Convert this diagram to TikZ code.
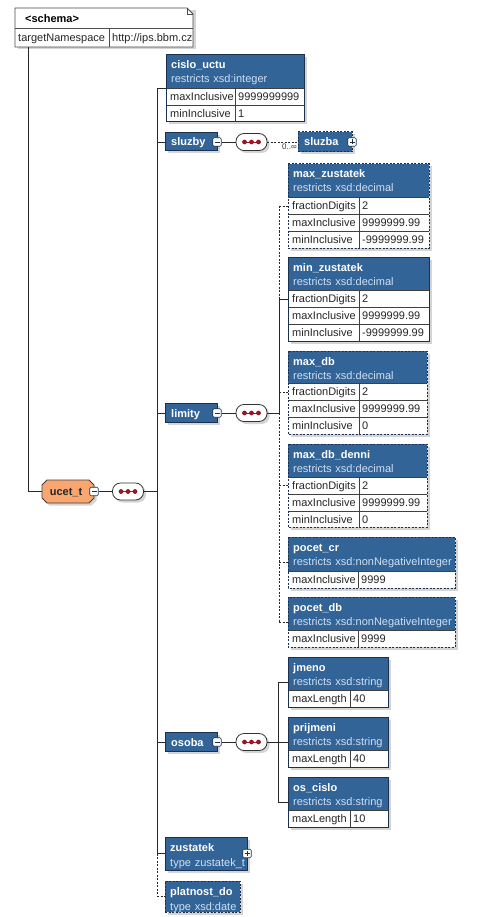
\documentclass[tikz,border=0pt]{standalone}
\usepackage{fontspec}
\setmainfont{Liberation Sans}
\usetikzlibrary{calc}
\definecolor{hdrc}{RGB}{50,100,152}
\definecolor{bordc}{RGB}{26,48,78}
\definecolor{subc}{RGB}{208,224,242}
\definecolor{linec}{RGB}{40,40,40}
\definecolor{shadc}{RGB}{212,212,212}
\definecolor{orangec}{RGB}{249,166,112}
\definecolor{dotc}{RGB}{165,20,35}
\newcommand{\gap}{\hspace{3.8pt}}
\tikzset{
  ttl/.style={anchor=base west, inner sep=0, font=\fontsize{11}{12}\selectfont\bfseries, text=white},
  subt/.style={anchor=base west, inner sep=0, font=\fontsize{11}{12}\selectfont, text=subc},
  rowt/.style={anchor=base west, inner sep=0, font=\fontsize{11}{12}\selectfont, text=black!85},
  conn/.style={draw=linec, line width=0.9},
  opt/.style={dash pattern=on 2pt off 1.5pt},
  mbox/.style={draw=bordc, fill=white, minimum size=8.5, inner sep=0, rounded corners=1.2, line width=0.6},
  seqbox/.style={draw=black!80, fill=white, rounded corners=8, minimum width=31, minimum height=17, inner sep=0, line width=0.8},
  bare/.style={inner sep=0, outer sep=0},
}
% element with header (two lines) and total height
\newcommand{\ebox}[8]{%
  \fill[shadc] ($(#2,#3)+(2.5,2.5)$) rectangle ++(#4,#5);
  \node[bare, fill=white, minimum width=#4, minimum height=#5, anchor=north west] (#1) at (#2,#3) {};
  \fill[hdrc] (#1.north west) rectangle ++(#4,#6);
  \draw[bordc, line width=0.8] ($(#1.north west)+(0,#6)$) -- ++(#4,0);
  \node[ttl] at ($(#1.north west)+(5,14)$) {#7};
  \node[subt] at ($(#1.north west)+(5,28)$) {#8};
}
\newcommand{\eborder}[2]{%
  \draw[bordc, line width=1, #2] (#1.north west) rectangle (#1.south east);
}
% two-line header-only element: id x y w h title sub style
\newcommand{\tbox}[8]{%
  \fill[shadc] ($(#2,#3)+(2.5,2.5)$) rectangle ++(#4,#5);
  \node[bare, fill=hdrc, draw=bordc, line width=1, #8, minimum width=#4, minimum height=#5, anchor=north west] (#1) at (#2,#3) {};
  \node[ttl] at ($(#1.north west)+(5,14)$) {#6};
  \node[subt] at ($(#1.north west)+(5,29)$) {#7};
}
% single line element: id x y w h title style
\newcommand{\selem}[7]{%
  \fill[shadc] ($(#2,#3)+(2.5,2.5)$) rectangle ++(#4,#5);
  \node[bare, fill=hdrc, draw=bordc, line width=1, #7, minimum width=#4, minimum height=#5, anchor=north west] (#1) at (#2,#3) {};
  \node[ttl] at ($(#1.west)+(6,4)$) {#6};
}
% facet row: x y w divx label value
\newcommand{\frow}[6]{%
  \draw[black!75, line width=0.7] (#1,#2) -- ++(#3,0);
  \draw[black!75, line width=0.7] (#4,#2) -- ++(0,17);
  \node[rowt] at (#1+4,#2+12.7) {#5};
  \node[rowt] at (#4+3,#2+12.7) {#6};
}
% sequence compositor: id x y
\newcommand{\seqc}[3]{%
  \fill[shadc, rounded corners=8] (#2-15.5+2.5,#3-8.5+2.5) rectangle ++(31,17);
  \node[seqbox] (#1) at (#2,#3) {};
  \draw[dotc, line width=0.9] ($(#1.center)+(-7,0)$) -- ++(14,0);
  \foreach \dx in {-7,0,7} \filldraw[fill=dotc, draw=dotc!70!black, line width=0.4] ($(#1.center)+(\dx,0)$) circle (2.1);
}
\newcommand{\minusbox}[2]{%
  \node[mbox] (#1) at (#2) {};
  \draw[bordc, line width=0.7] ($(#1.center)+(-2.5,0)$) -- ++(5,0);
}
\newcommand{\plusbox}[2]{%
  \node[mbox] (#1) at (#2) {};
  \draw[bordc, line width=0.7] ($(#1.center)+(-2.5,0)$) -- ++(5,0);
  \draw[bordc, line width=0.7] ($(#1.center)+(0,-2.5)$) -- ++(0,5);
}
\begin{document}
\begin{tikzpicture}[x=1pt,y=-1pt]
\useasboundingbox (0,0) rectangle (476,917);
\fill[white] (0,0) rectangle (476,917);

% ---------- schema ----------
\fill[shadc] (17.5,10.5) rectangle (195.5,49.5);
\node[bare, minimum width=178, minimum height=39, anchor=north west] (schema) at (15,8) {};
\draw[black!70, fill=white, line width=0.8] (schema.north west) -- ($(schema.north east)+(-6,0)$) -- ($(schema.north east)+(0,6)$) -- (schema.south east) -- (schema.south west) -- cycle;
\draw[black!70, line width=0.6] ($(schema.north east)+(-6,0)$) -- ($(schema.north east)+(-6,6)$) -- ($(schema.north east)+(0,6)$);
\draw[black!70, line width=0.8] ($(schema.north west)+(0,20)$) -- ($(schema.north east)+(0,20)$);
\draw[black!70, line width=0.8] ($(schema.north west)+(94,20)$) -- ($(schema.south west)+(94,0)$);
\node[ttl, text=black] at ($(schema.north west)+(10,14.5)$) {<schema>};
\node[rowt] at ($(schema.north west)+(3,33.5)$) {targetNamespace};
\node[rowt] at ($(schema.north west)+(97,33.5)$) {http://ips.bbm.cz};

% ---------- ucet_t ----------
\fill[shadc] (49.5,482.5) -- (91.5,482.5) -- (96.5,487.5) -- (96.5,500.5) -- (91.5,505.5) -- (49.5,505.5) -- (44.5,500.5) -- (44.5,487.5) -- cycle;
\node[bare, minimum width=52, minimum height=23, anchor=north west] (ucet) at (42,480) {};
\draw[black!75, fill=orangec, line width=0.9] ($(ucet.north west)+(5,0)$) -- ($(ucet.north east)+(-5,0)$) -- ($(ucet.north east)+(0,5)$) -- ($(ucet.south east)+(0,-5)$) -- ($(ucet.south east)+(-5,0)$) -- ($(ucet.south west)+(5,0)$) -- ($(ucet.south west)+(0,-5)$) -- ($(ucet.north west)+(0,5)$) -- cycle;
\node[ttl, text=black!85, anchor=base] at ($(ucet.center)+(-2,4)$) {ucet\_t};
\minusbox{ucetM}{ucet.east}
\seqc{ucetSeq}{128}{491.5}

% ---------- children of ucet_t ----------
\ebox{cislo}{166}{55}{138}{67}{33}{cislo\_uctu}{restricts\gap xsd:integer}
\frow{166}{88}{138}{235}{maxInclusive}{9999999999}
\frow{166}{105}{138}{235}{minInclusive}{1}
\eborder{cislo}{}

\selem{sluzby}{165}{133}{52}{18}{sluzby}{}
\minusbox{sluzbyM}{sluzby.east}
\seqc{sluzbySeq}{251.5}{142}
\selem{sluzba}{298}{132}{54}{20}{sluzba}{opt}
\plusbox{sluzbaP}{sluzba.east}

\selem{limity}{165}{403.5}{52}{19}{limity}{}
\minusbox{limityM}{limity.east}
\seqc{limitySeq}{251.5}{413}

\selem{osoba}{165}{732.5}{52}{19}{osoba}{}
\minusbox{osobaM}{osoba.east}
\seqc{osobaSeq}{251.5}{742}

\tbox{zustatek}{165}{837}{82}{33}{zustatek}{type\gap zustatek\_t}{}
\plusbox{zustatekP}{zustatek.east}
\tbox{platnost}{165}{881}{75}{31}{platnost\_do}{type\gap xsd:date}{opt}

% ---------- limity children ----------
\ebox{maxz}{288}{164}{141}{84}{33}{max\_zustatek}{restricts\gap xsd:decimal}
\frow{288}{197}{141}{359}{fractionDigits}{2}
\frow{288}{214}{141}{359}{maxInclusive}{9999999.99}
\frow{288}{231}{141}{359}{minInclusive}{-9999999.99}
\eborder{maxz}{opt}

\ebox{minz}{288}{257}{141}{84}{33}{min\_zustatek}{restricts\gap xsd:decimal}
\frow{288}{290}{141}{359}{fractionDigits}{2}
\frow{288}{307}{141}{359}{maxInclusive}{9999999.99}
\frow{288}{324}{141}{359}{minInclusive}{-9999999.99}
\eborder{minz}{}

\ebox{maxdb}{288}{351}{139}{83}{32}{max\_db}{restricts\gap xsd:decimal}
\frow{288}{383}{139}{359}{fractionDigits}{2}
\frow{288}{400}{139}{359}{maxInclusive}{9999999.99}
\frow{288}{417}{139}{359}{minInclusive}{0}
\eborder{maxdb}{opt}

\ebox{maxdbd}{288}{444}{139}{83}{33}{max\_db\_denni}{restricts\gap xsd:decimal}
\frow{288}{477}{139}{359}{fractionDigits}{2}
\frow{288}{494}{139}{359}{maxInclusive}{9999999.99}
\frow{288}{511}{139}{359}{minInclusive}{0}
\eborder{maxdbd}{opt}

\ebox{poccr}{288}{537}{167}{51}{34}{pocet\_cr}{restricts\gap xsd:nonNegativeInteger}
\frow{288}{571}{167}{358}{maxInclusive}{9999}
\eborder{poccr}{opt}

\ebox{pocdb}{288}{597}{167}{50}{33}{pocet\_db}{restricts\gap xsd:nonNegativeInteger}
\frow{288}{630}{167}{358}{maxInclusive}{9999}
\eborder{pocdb}{opt}

% ---------- osoba children ----------
\ebox{jmeno}{288}{657}{100}{50}{33}{jmeno}{restricts\gap xsd:string}
\frow{288}{690}{100}{350}{maxLength}{40}
\eborder{jmeno}{}

\ebox{prijmeni}{288}{717}{100}{50}{33}{prijmeni}{restricts\gap xsd:string}
\frow{288}{750}{100}{350}{maxLength}{40}
\eborder{prijmeni}{}

\ebox{oscislo}{288}{777}{100}{50}{33}{os\_cislo}{restricts\gap xsd:string}
\frow{288}{810}{100}{350}{maxLength}{10}
\eborder{oscislo}{}

% ---------- connectors ----------
\coordinate (S) at (28,0);
\coordinate (T) at (157,0);
\coordinate (L) at (279,0);
\coordinate (O) at (278,0);

\draw[conn] (schema.south -| S) |- (ucet.west);
\draw[conn] (ucetM.east) -- (ucetSeq.west);
\draw[conn] (ucetSeq.east) -- (ucetSeq.east -| T);
\draw[conn] (cislo.west -| T) -- (zustatek.west -| T);
\draw[conn, opt] (zustatek.west -| T) -- (platnost.west -| T);
\draw[conn] (cislo.west -| T) -- (cislo.west);
\draw[conn] (sluzby.west -| T) -- (sluzby.west);
\draw[conn] (limity.west -| T) -- (limity.west);
\draw[conn] (osoba.west -| T) -- (osoba.west);
\draw[conn] (zustatek.west -| T) -- (zustatek.west);
\draw[conn, opt] (platnost.west -| T) -- (platnost.west);

\draw[conn] (sluzbyM.east) -- (sluzbySeq.west);
\draw[conn, opt] (sluzbySeq.east) -- (sluzba.west)
  node[pos=0.72, anchor=north, yshift=-1pt, inner sep=0.5pt, font=\fontsize{8}{9}\selectfont, text=black!80] {0..∞};

\draw[conn] (limityM.east) -- (limitySeq.west);
\draw[conn] (limitySeq.east) -- (limitySeq.east -| L);
\draw[conn, opt] (maxz.west -| L) -- (minz.west -| L);
\draw[conn] (minz.west -| L) -- (limitySeq.east -| L);
\draw[conn, opt] (limitySeq.east -| L) -- (pocdb.west -| L);
\draw[conn, opt] (maxz.west -| L) -- (maxz.west);
\draw[conn] (minz.west -| L) -- (minz.west);
\draw[conn, opt] (maxdb.west -| L) -- (maxdb.west);
\draw[conn, opt] (maxdbd.west -| L) -- (maxdbd.west);
\draw[conn, opt] (poccr.west -| L) -- (poccr.west);
\draw[conn, opt] (pocdb.west -| L) -- (pocdb.west);

\draw[conn] (osobaM.east) -- (osobaSeq.west);
\draw[conn] (osobaSeq.east) -- (osobaSeq.east -| O);
\draw[conn] (jmeno.west -| O) -- (oscislo.west -| O);
\draw[conn] (jmeno.west -| O) -- (jmeno.west);
\draw[conn] (prijmeni.west -| O) -- (prijmeni.west);
\draw[conn] (oscislo.west -| O) -- (oscislo.west);
\end{tikzpicture}
\end{document}
